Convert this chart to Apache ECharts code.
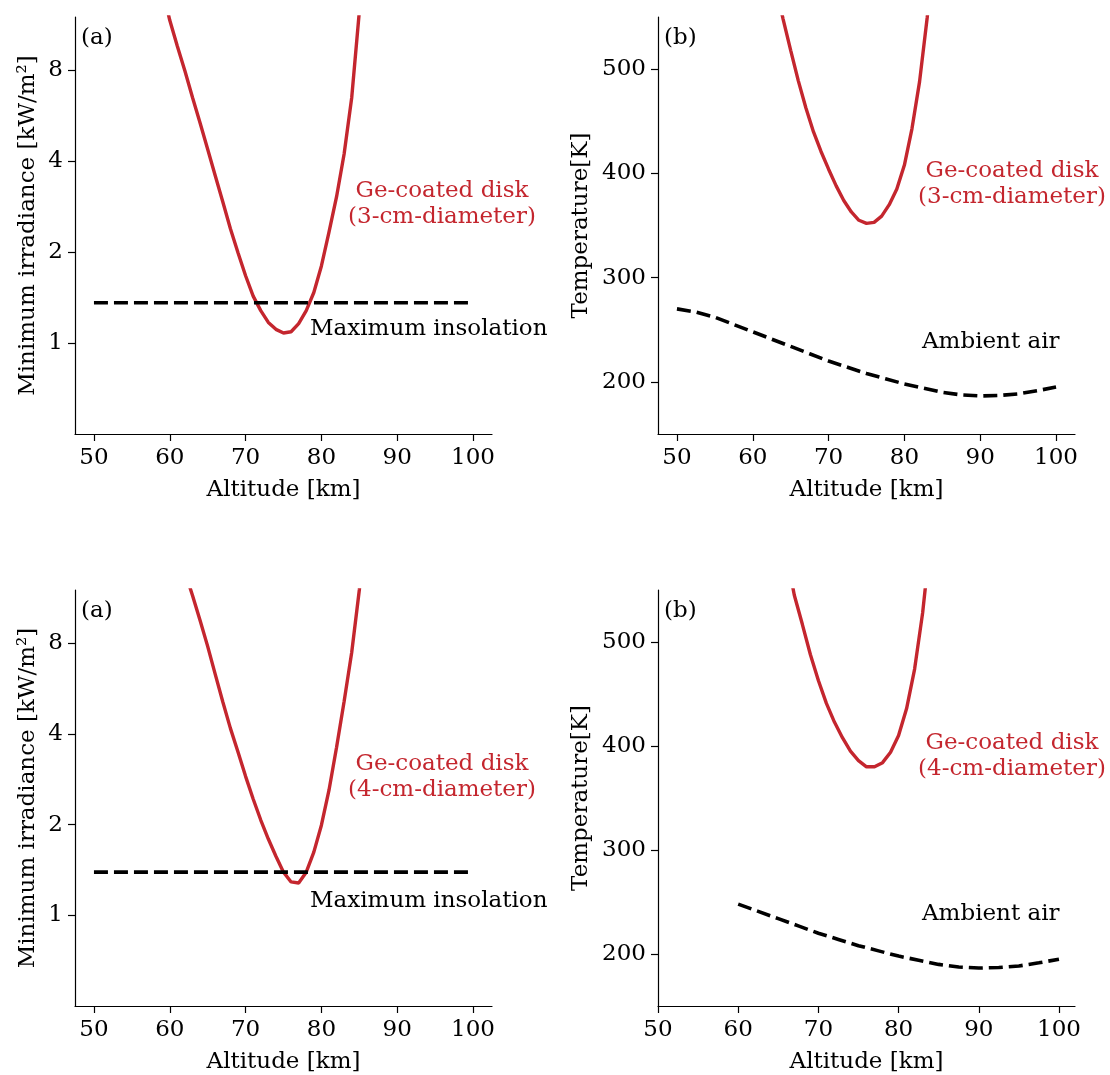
<!DOCTYPE html>
<html>
<head>
<meta charset="utf-8">
<script src="https://cdn.jsdelivr.net/npm/echarts@6/dist/echarts.min.js"></script>
<style>
html,body{margin:0;padding:0;background:#fff;}
#chart{width:1110px;height:1075px;}
</style>
</head>
<body>
<div id="chart"></div>
<script>
// ---- data ----
const xTicks = [50, 60, 70, 80, 90, 100];
const irrTicks = [1, 2, 4, 8];
const tempTicks = [200, 300, 400, 500];

// (a) top: minimum irradiance, 3-cm disk [kW/m2]
const irrAlt3 = [59,60,61,62,63,64,65,66,67,68,69,70,71,72,73,74,75,76,77,78,79,80,81,82,83,84,85,86];
const irr3 = [15.0,11.7,9.6,7.95,6.5,5.35,4.38,3.58,2.93,2.39,1.99,1.67,1.43,1.28,1.17,1.11,1.08,1.09,1.16,1.28,1.47,1.80,2.33,3.05,4.23,6.5,12.5,24];

// (a) bottom: minimum irradiance, 4-cm disk
const irrAlt4 = [62,63,64,65,66,67,68,69,70,71,72,73,74,75,76,77,78,79,80,81,82,83,84,85,86];
const irr4 = [13.8,11.5,9.5,7.8,6.3,5.1,4.17,3.48,2.89,2.43,2.07,1.79,1.57,1.39,1.29,1.28,1.39,1.62,1.99,2.60,3.61,5.13,7.46,12.0,21];

// maximum insolation
const insolAlt = [50, 100];
const insol3 = [1.36, 1.36];
const insol4 = [1.39, 1.39];

// (b) top: disk temperature, 3-cm [K]
const tempAlt3 = [63,64,65,66,67,68,69,70,71,72,73,74,75,76,77,78,79,80,81,82,83,84];
const temp3 = [580,548,518,489,463,440,421,404,388,374,363,355,352,353,359,370,385,408,443,488,549,620];

// (b) bottom: disk temperature, 4-cm [K]
const tempAlt4 = [66,67,68,69,70,71,72,73,74,75,76,77,78,79,80,81,82,83,84];
const temp4 = [585,545,517,488,463,441,423,408,395,386,380,380,384,394,410,436,474,528,600];

// ambient air temperature [K]
const airAlt = [50,52.5,55,57.5,60,62.5,65,67.5,70,72.5,75,77.5,80,82.5,85,87.5,90,92.5,95,97.5,100];
const airT = [270,267,262,255,248,241,234,227,220,214,208,203,198,194,190,187.5,186.5,187,188.5,191.5,195];
const airStartBottom = 60;

// ---- styling ----
const RED = '#c4262e';
const FONT = 'DejaVu Serif';
const FS = 23;

function zip(xs, ys) { return xs.map((x, i) => [x, ys[i]]); }

const grids = [
  {left: 75, top: 17, width: 417, height: 417},
  {left: 658, top: 17, width: 417, height: 417},
  {left: 75, top: 590, width: 417, height: 417},
  {left: 658, top: 590, width: 417, height: 417}
];

function xAxis(gi, min, max) {
  return {
    gridIndex: gi, type: 'value', min: min, max: max,
    axisLine: {show: true, onZero: false, lineStyle: {color: '#000', width: 1.2}},
    axisTick: {show: true, customValues: xTicks, length: 7, inside: false, lineStyle: {color: '#000', width: 1.2}},
    axisLabel: {customValues: xTicks, color: '#000', fontFamily: FONT, fontSize: FS, margin: 13},
    splitLine: {show: false},
    name: 'Altitude [km]', nameLocation: 'middle', nameGap: 45,
    nameTextStyle: {color: '#000', fontFamily: FONT, fontSize: FS}
  };
}
function yIrr(gi) {
  return {
    gridIndex: gi, type: 'log', logBase: 2, min: 0.5, max: 12,
    axisLine: {show: true, onZero: false, lineStyle: {color: '#000', width: 1.2}},
    axisTick: {show: true, customValues: irrTicks, length: 7, lineStyle: {color: '#000', width: 1.2}},
    axisLabel: {customValues: irrTicks, color: '#000', fontFamily: FONT, fontSize: FS, margin: 12},
    splitLine: {show: false}, minorTick: {show: false},
    name: 'Minimum irradiance [kW/m²]', nameLocation: 'middle', nameGap: 35,
    nameTextStyle: {color: '#000', fontFamily: FONT, fontSize: FS}
  };
}
function yTemp(gi) {
  return {
    gridIndex: gi, type: 'value', min: 150, max: 550,
    axisLine: {show: true, onZero: false, lineStyle: {color: '#000', width: 1.2}},
    axisTick: {show: true, customValues: tempTicks, length: 7, lineStyle: {color: '#000', width: 1.2}},
    axisLabel: {customValues: tempTicks, color: '#000', fontFamily: FONT, fontSize: FS, margin: 12},
    splitLine: {show: false},
    name: 'Temperature[K]', nameLocation: 'middle', nameGap: 65,
    nameTextStyle: {color: '#000', fontFamily: FONT, fontSize: FS}
  };
}

function redLine(gi, data) {
  return {type: 'line', xAxisIndex: gi, yAxisIndex: gi, data: data, showSymbol: false, symbol: 'none',
    clip: true, lineStyle: {color: RED, width: 3.4}, z: 2, silent: true};
}
function blackDash(gi, data) {
  return {type: 'line', xAxisIndex: gi, yAxisIndex: gi, data: data, showSymbol: false, symbol: 'none',
    clip: true, lineStyle: {color: '#000', width: 3.6, type: [14, 6], cap: 'butt'}, z: 3, silent: true};
}

function txt(x, y, s, color, align) {
  return {type: 'text', x: x, y: y, silent: true,
    style: {text: s, fill: color, fontFamily: FONT, fontSize: FS, align: align || 'left', verticalAlign: 'middle', lineHeight: 26}};
}

const airBottomIdx = airAlt.findIndex(a => a >= airStartBottom);

const option = {
  backgroundColor: '#fff',
  animation: false,
  grid: grids,
  xAxis: [xAxis(0, 47.5, 102.5), xAxis(1, 47.5, 102.5), xAxis(2, 47.5, 102.5), xAxis(3, 50, 102)],
  yAxis: [yIrr(0), yTemp(1), yIrr(2), yTemp(3)],
  series: [
    redLine(0, zip(irrAlt3, irr3)),
    blackDash(0, zip(insolAlt, insol3)),
    redLine(1, zip(tempAlt3, temp3)),
    blackDash(1, zip(airAlt, airT)),
    redLine(2, zip(irrAlt4, irr4)),
    blackDash(2, zip(insolAlt, insol4)),
    redLine(3, zip(tempAlt4, temp4)),
    blackDash(3, zip(airAlt.slice(airBottomIdx), airT.slice(airBottomIdx)))
  ],
  graphic: [
    txt(81, 38, '(a)', '#000'),
    txt(664, 38, '(b)', '#000'),
    txt(81, 611, '(a)', '#000'),
    txt(664, 611, '(b)', '#000'),
    txt(442, 204, 'Ge-coated disk\n(3-cm-diameter)', RED, 'center'),
    txt(1012, 184, 'Ge-coated disk\n(3-cm-diameter)', RED, 'center'),
    txt(442, 777, 'Ge-coated disk\n(4-cm-diameter)', RED, 'center'),
    txt(1012, 756, 'Ge-coated disk\n(4-cm-diameter)', RED, 'center'),
    txt(310, 329, 'Maximum insolation', '#000'),
    txt(310, 901, 'Maximum insolation', '#000'),
    txt(922, 342, 'Ambient air', '#000'),
    txt(922, 914, 'Ambient air', '#000')
  ]
};

const chart = echarts.init(document.getElementById('chart'), null, {renderer: 'canvas'});
chart.setOption(option);
</script>
</body>
</html>
